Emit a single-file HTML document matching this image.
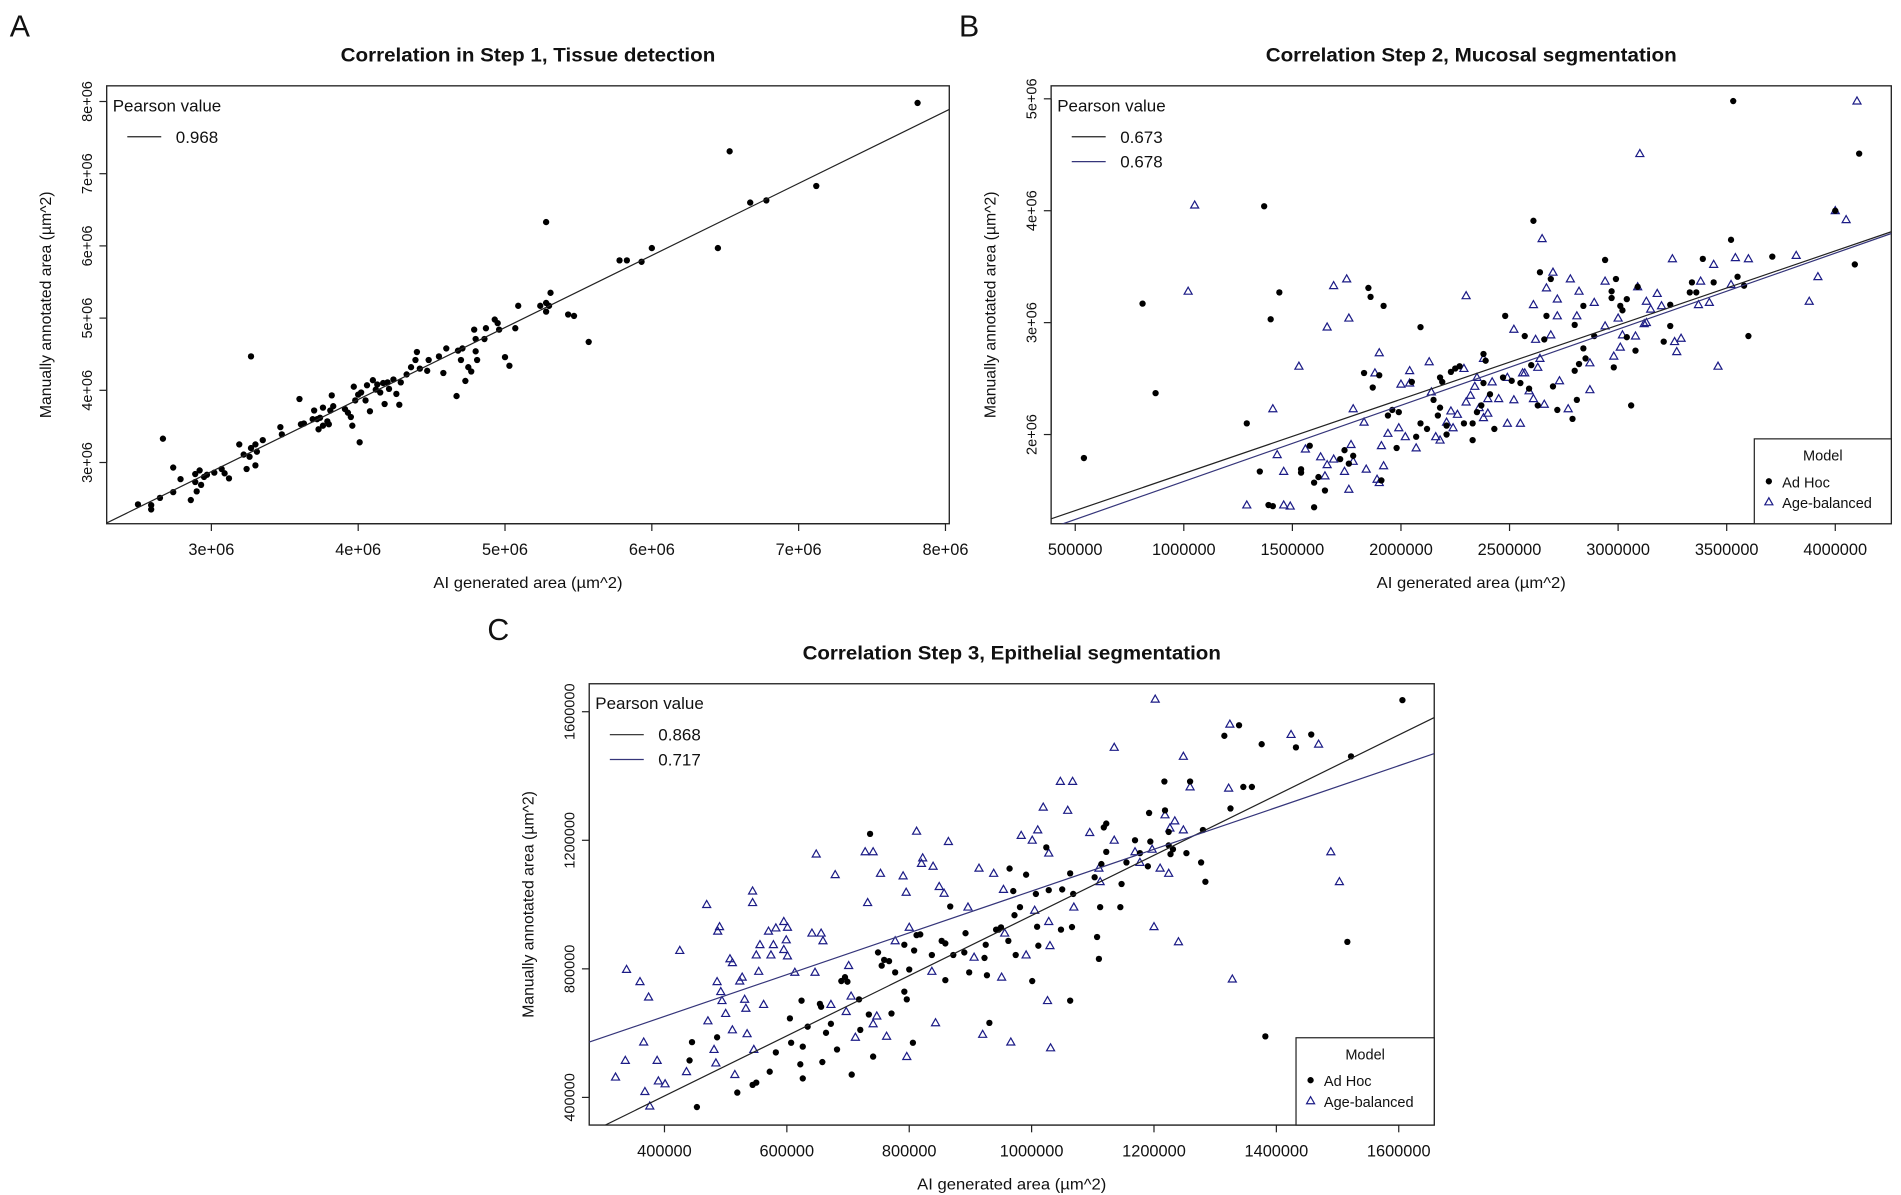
<!DOCTYPE html>
<html><head><meta charset="utf-8"><style>
html,body{margin:0;padding:0;background:#fff;}
svg{display:block;}
text{font-family:"Liberation Sans",Arial,sans-serif;fill:#111;}
</style></head><body>
<svg id="fig" width="1901" height="1195" viewBox="0 0 1568 985.7" preserveAspectRatio="none" xmlns="http://www.w3.org/2000/svg">
<text x="8" y="30" font-size="25">A</text>
<text x="791" y="30" font-size="25">B</text>
<text x="402" y="528" font-size="25">C</text>
</svg>
<script>
// ---------- Panel A data (millions) ----------
const aX=[2.50,2.59,2.59,2.65,2.67,2.74,2.74,2.79,2.86,2.89,2.90,2.89,2.92,2.93,2.95,2.97,3.02,3.07,3.09,3.12,3.19,3.22,3.24,3.26,3.27,3.30,3.30,3.31,3.35,3.27,3.47,3.48,3.60,3.61,3.63,3.69,3.70,3.72,3.73,3.74,3.76,3.76,3.79,3.80,3.81,3.82,3.83,3.91,3.93,3.95,3.96,3.97,3.98,4.00,4.01,4.02,4.05,4.06,4.08,4.10,4.12,4.13,4.15,4.17,4.18,4.20,4.21,4.24,4.26,4.28,4.29,4.33,4.36,4.39,4.40,4.42,4.47,4.48,4.55,4.58,4.60,4.67,4.68,4.70,4.71,4.73,4.75,4.77,4.79,4.80,4.80,4.81,4.86,4.87,4.93,4.95,4.96,5.00,5.03,5.07,5.09,5.24,5.28,5.28,5.28,5.30,5.31,5.43,5.47,5.57,5.78,5.83,5.93,6.00,6.45,6.53,6.67,6.78,7.12,7.81];
const aY=[2.42,2.41,2.35,2.51,3.33,2.93,2.59,2.77,2.48,2.84,2.60,2.73,2.89,2.69,2.80,2.83,2.86,2.91,2.85,2.78,3.25,3.11,2.91,3.08,3.20,3.25,2.96,3.15,3.31,4.47,3.49,3.39,3.88,3.53,3.54,3.60,3.72,3.60,3.46,3.62,3.51,3.76,3.57,3.53,3.72,3.93,3.78,3.74,3.69,3.63,3.51,4.05,3.86,3.94,3.28,3.97,3.86,4.07,3.71,4.14,4.01,4.08,3.97,4.10,3.81,4.11,4.02,4.15,3.95,3.80,4.11,4.22,4.32,4.42,4.53,4.30,4.27,4.42,4.47,4.24,4.58,3.92,4.55,4.42,4.58,4.13,4.32,4.26,4.84,4.54,4.71,4.42,4.71,4.86,4.98,4.93,4.84,4.46,4.34,4.86,5.17,5.17,6.33,5.21,5.09,5.17,5.35,5.05,5.03,4.67,5.80,5.80,5.78,5.97,5.97,7.31,6.60,6.63,6.83,7.98];
const aXTicks=[3,4,5,6,7,8];
const aXTickLabels=["3e+06","4e+06","5e+06","6e+06","7e+06","8e+06"];
const aYTicks=[3,4,5,6,7,8];
const aYTickLabels=["3e+06","4e+06","5e+06","6e+06","7e+06","8e+06"];
const aFit=[0.998,-0.12]; // slope, intercept
const aPearson=["0.968"];

// ---------- Panel B data (millions) ----------
const bAdHocX=[0.54,0.81,0.87,1.29,1.35,1.37,1.40,1.39,1.41,1.44,1.54,1.54,1.58,1.60,1.62,1.60,1.65,1.72,1.74,1.76,1.78,1.83,1.85,1.86,1.87,1.90,1.91,1.92,1.94,1.96,1.98,1.99,2.05,2.07,2.09,2.09,2.12,2.15,2.17,2.18,2.18,2.19,2.21,2.21,2.23,2.25,2.27,2.29,2.33,2.33,2.35,2.37,2.38,2.38,2.39,2.41,2.43,2.47,2.48,2.51,2.55,2.57,2.59,2.60,2.61,2.63,2.64,2.66,2.67,2.69,2.70,2.72,2.80,2.80,2.79,2.81,2.82,2.84,2.84,2.85,2.89,2.94,2.97,2.97,2.98,2.99,3.01,3.02,3.04,3.04,3.06,3.08,3.09,3.24,3.21,3.24,3.33,3.34,3.36,3.39,3.44,3.52,3.53,3.55,3.58,3.60,3.71,4.09,4.11,4.00];
const bAdHocY=[1.79,3.17,2.37,2.10,1.67,4.04,3.03,1.37,1.36,3.27,1.69,1.66,1.90,1.57,1.62,1.35,1.50,1.78,1.86,1.74,1.81,2.55,3.31,3.23,2.42,2.53,1.59,3.15,2.17,2.22,1.88,2.20,2.47,1.98,2.96,2.10,2.05,2.31,2.17,2.24,2.51,2.47,2.08,2.00,2.56,2.59,2.61,2.10,1.95,2.10,2.20,2.26,2.72,2.46,2.66,2.36,2.05,2.51,3.06,2.48,2.46,2.88,2.41,2.62,3.91,2.26,3.45,2.85,3.06,3.39,2.43,2.22,2.57,2.98,2.14,2.31,2.63,3.15,2.77,2.68,2.88,3.56,3.28,3.22,2.60,3.39,3.15,3.11,3.21,2.87,2.26,2.75,3.32,2.97,2.83,3.16,3.27,3.36,3.27,3.57,3.36,3.74,4.98,3.41,3.33,2.88,3.59,3.52,4.51,4.00];
const bAgeX=[1.02,1.05,1.29,1.41,1.43,1.46,1.46,1.49,1.53,1.56,1.63,1.65,1.66,1.66,1.69,1.69,1.74,1.75,1.76,1.76,1.77,1.78,1.78,1.83,1.84,1.88,1.90,1.89,1.90,1.91,1.92,1.94,1.99,2.00,2.02,2.04,2.04,2.07,2.13,2.14,2.16,2.18,2.21,2.23,2.24,2.26,2.30,2.29,2.30,2.32,2.34,2.35,2.36,2.38,2.38,2.40,2.40,2.42,2.45,2.49,2.49,2.52,2.52,2.55,2.56,2.57,2.59,2.61,2.61,2.62,2.63,2.64,2.65,2.66,2.67,2.69,2.70,2.72,2.72,2.73,2.77,2.78,2.81,2.82,2.87,2.87,2.89,2.94,2.94,2.98,3.00,3.01,3.02,3.08,3.09,3.10,3.12,3.13,3.13,3.15,3.18,3.20,3.25,3.26,3.27,3.29,3.37,3.38,3.42,3.44,3.46,3.52,3.54,3.60,3.82,3.88,3.92,4.00,4.05,4.10];
const bAgeY=[3.28,4.05,1.37,2.23,1.82,1.67,1.37,1.36,2.61,1.87,1.80,1.63,2.96,1.73,3.33,1.78,1.67,3.39,1.51,3.04,1.91,2.23,1.76,2.11,1.69,2.55,2.73,1.60,1.57,1.90,1.72,2.01,2.06,2.45,1.98,2.57,2.46,1.88,2.65,2.38,1.98,1.95,2.11,2.21,2.06,2.18,3.24,2.59,2.29,2.35,2.43,2.51,2.24,2.15,2.68,2.32,2.19,2.47,2.32,2.51,2.10,2.31,2.94,2.10,2.55,2.55,2.39,3.16,2.32,2.85,2.60,2.68,3.75,2.27,3.31,2.89,3.45,3.21,3.06,2.48,2.23,3.39,3.06,3.28,2.64,2.40,3.18,3.37,2.97,2.70,3.04,2.78,2.89,2.88,3.32,4.51,2.99,3.19,3.00,3.12,3.26,3.15,3.57,2.83,2.74,2.86,3.16,3.37,3.18,3.52,2.61,3.34,3.58,3.57,3.60,3.19,3.41,4.00,3.92,4.98];
const bXTicks=[0.5,1.0,1.5,2.0,2.5,3.0,3.5,4.0];
const bXTickLabels=["500000","1000000","1500000","2000000","2500000","3000000","3500000","4000000"];
const bYTicks=[2,3,4,5];
const bYTickLabels=["2e+06","3e+06","4e+06","5e+06"];
const bFitAdHoc=[0.663,0.989];
const bFitAge=[0.680,0.901];
const bPearson=["0.673","0.678"];

// ---------- Panel C data (millions) ----------
const cAdHocX=[0.441,0.445,0.453,0.486,0.519,0.544,0.550,0.572,0.582,0.605,0.607,0.622,0.624,0.626,0.626,0.634,0.654,0.658,0.664,0.656,0.672,0.682,0.689,0.695,0.699,0.706,0.718,0.720,0.736,0.741,0.734,0.749,0.755,0.759,0.767,0.771,0.777,0.792,0.792,0.796,0.800,0.806,0.808,0.812,0.818,0.837,0.853,0.859,0.859,0.867,0.872,0.890,0.892,0.898,0.923,0.925,0.927,0.931,0.942,0.946,0.950,0.962,0.964,0.970,0.972,0.974,0.981,0.991,1.001,1.007,1.009,1.011,1.024,1.028,1.048,1.050,1.063,1.063,1.066,1.068,1.103,1.107,1.110,1.112,1.114,1.118,1.122,1.122,1.145,1.147,1.155,1.169,1.177,1.190,1.192,1.194,1.217,1.218,1.224,1.224,1.227,1.231,1.253,1.259,1.277,1.280,1.284,1.315,1.325,1.339,1.346,1.360,1.376,1.382,1.432,1.457,1.522,1.516,1.606];
const cAdHocY=[0.515,0.572,0.370,0.587,0.415,0.439,0.446,0.480,0.540,0.646,0.570,0.503,0.701,0.558,0.459,0.620,0.691,0.510,0.601,0.682,0.629,0.549,0.762,0.774,0.760,0.471,0.705,0.610,1.220,0.527,0.658,0.851,0.810,0.828,0.824,0.661,0.789,0.875,0.729,0.705,0.798,0.570,0.857,0.905,0.907,0.843,0.887,0.879,0.765,0.994,0.843,0.851,0.911,0.789,0.834,0.875,0.780,0.632,0.922,0.922,0.929,0.887,1.112,1.042,0.967,0.843,0.992,1.093,0.762,1.033,0.931,0.872,1.178,1.045,0.922,1.047,1.097,0.701,0.930,1.033,1.085,0.899,0.831,0.992,1.126,1.240,1.252,1.164,0.992,1.064,1.131,1.200,1.160,1.119,1.285,1.196,1.383,1.293,1.226,1.184,1.157,1.172,1.160,1.383,1.131,1.232,1.071,1.525,1.299,1.558,1.366,1.366,1.499,0.590,1.489,1.529,1.461,0.884,1.636];
const cAgeX=[0.320,0.336,0.338,0.360,0.366,0.368,0.374,0.376,0.388,0.390,0.401,0.425,0.436,0.469,0.471,0.481,0.484,0.486,0.487,0.490,0.492,0.494,0.500,0.507,0.511,0.511,0.515,0.523,0.527,0.531,0.533,0.535,0.544,0.544,0.546,0.550,0.554,0.556,0.562,0.570,0.574,0.578,0.582,0.595,0.595,0.599,0.601,0.601,0.613,0.641,0.646,0.648,0.656,0.659,0.672,0.679,0.697,0.701,0.705,0.712,0.728,0.732,0.741,0.741,0.747,0.753,0.763,0.777,0.790,0.795,0.796,0.800,0.812,0.820,0.822,0.837,0.839,0.843,0.849,0.857,0.864,0.896,0.906,0.914,0.920,0.938,0.951,0.954,0.956,0.966,0.983,0.991,1.001,1.005,1.010,1.019,1.026,1.028,1.028,1.030,1.031,1.047,1.059,1.067,1.069,1.095,1.110,1.112,1.135,1.135,1.169,1.177,1.197,1.200,1.202,1.210,1.218,1.224,1.226,1.234,1.240,1.248,1.248,1.259,1.322,1.324,1.328,1.424,1.469,1.489,1.503];
const cAgeY=[0.463,0.515,0.798,0.760,0.572,0.418,0.712,0.373,0.515,0.451,0.442,0.857,0.480,1.000,0.638,0.549,0.507,0.760,0.917,0.931,0.729,0.701,0.661,0.831,0.819,0.610,0.471,0.762,0.774,0.705,0.677,0.598,1.042,1.006,0.549,0.843,0.792,0.875,0.689,0.917,0.843,0.875,0.927,0.947,0.860,0.890,0.929,0.840,0.789,0.911,0.789,1.157,0.911,0.887,0.689,1.093,0.667,0.810,0.715,0.587,1.164,1.006,1.164,0.629,0.653,1.097,0.590,0.887,1.089,1.038,0.527,0.929,1.228,1.128,1.145,0.792,1.119,0.632,1.056,1.035,1.196,0.992,0.836,1.113,0.596,1.097,0.774,1.047,0.911,0.572,1.215,0.843,1.200,0.982,1.232,1.303,0.701,0.947,1.160,0.872,0.554,1.383,1.293,1.383,0.992,1.224,1.113,1.071,1.489,1.200,1.164,1.131,1.172,0.931,1.639,1.113,1.279,1.097,1.238,1.260,0.884,1.461,1.232,1.366,1.362,1.561,0.768,1.529,1.499,1.164,1.071];
const cXTicks=[0.4,0.6,0.8,1.0,1.2,1.4,1.6];
const cXTickLabels=["400000","600000","800000","1000000","1200000","1400000","1600000"];
const cYTicks=[0.4,0.8,1.2,1.6];
const cYTickLabels=["400000","800000","1200000","1600000"];
const cFitAdHoc=[0.936,0.030];
const cFitAge=[0.650,0.392];
const cPearson=["0.868","0.717"];

const NS="http://www.w3.org/2000/svg";
const svg=document.getElementById('fig');
const BLUE="#1c1c86", BLUELINE="#35357a";
function mk(tag,attrs,parent){const e=document.createElementNS(NS,tag);for(const k in attrs)e.setAttribute(k,attrs[k]);(parent||svg).appendChild(e);return e;}

function panel(p){
  const g=mk('g',{});
  
  
  const sx=v=>p.L+(v-p.x0)/(p.x1-p.x0)*(p.R-p.L);
  const sy=v=>p.B-(v-p.y0)/(p.y1-p.y0)*(p.B-p.T);
  const cp=mk('clipPath',{id:p.id+'clip'},g);
  mk('rect',{x:p.L,y:p.T,width:p.R-p.L,height:p.B-p.T},cp);
  const t=mk('text',{x:(p.L+p.R)/2,y:p.T-20,'font-size':16,'font-weight':'bold','text-anchor':'middle',textLength:p.titleW,lengthAdjust:'spacingAndGlyphs'},g);
  t.textContent=p.title;
  
  
  const xl=mk('text',{x:(p.L+p.R)/2,y:p.B+53,'font-size':13,'text-anchor':'middle',textLength:156,lengthAdjust:'spacingAndGlyphs'},g);
  xl.textContent="AI generated area (\u00b5m^2)";
  
  
  const yx=p.L-46, yc=(p.T+p.B)/2;
  const yl=mk('text',{x:yx,y:yc,'font-size':13,'text-anchor':'middle',transform:`rotate(-90 ${yx} ${yc})`},g);
  yl.textContent="Manually annotated area (\u00b5m^2)";
  
  
  p.xt.forEach((v,i)=>{const x=sx(v);
    const tk=mk('line',{x1:x,x2:x,y1:p.B,y2:p.B+6,stroke:'#222','stroke-width':1},g);
    
    
    const tl=mk('text',{x:x,y:p.B+26,'font-size':13.5,'text-anchor':'middle'},g);
    tl.textContent=p.xtl[i];
    
    });
  const xa=mk('line',{x1:sx(p.xt[0]),x2:sx(p.xt[p.xt.length-1]),y1:p.B,y2:p.B,stroke:'#222'},g);
  
  
  p.yt.forEach((v,i)=>{const y=sy(v);
    const tk=mk('line',{x1:p.L-6,x2:p.L,y1:y,y2:y,stroke:'#222'},g);
    
    
    const tx=p.L-12;
    const tl=mk('text',{x:tx,y:y,'font-size':12,'text-anchor':'middle',transform:`rotate(-90 ${tx} ${y})`},g);
    tl.textContent=p.ytl[i];
    
    });
  const ya=mk('line',{x1:p.L,x2:p.L,y1:sy(p.yt[0]),y2:sy(p.yt[p.yt.length-1]),stroke:'#222'},g);
  
  
  const box=mk('rect',{x:p.L,y:p.T,width:p.R-p.L,height:p.B-p.T,fill:'none',stroke:'#222','stroke-width':1.1},g);
  
  
  const pg=mk('g',{'clip-path':`url(#${p.id}clip)`},g);
  p.series.forEach(s=>{
    s.xs.forEach((v,i)=>{const x=sx(v),y=sy(s.ys[i]);
      if(s.tri){
        const m=mk('polygon',{points:`${x},${y-3.4} ${x-3.3},${y+2.4} ${x+3.3},${y+2.4}`,fill:'none',stroke:BLUE,'stroke-width':1},pg);
        
        
      } else {
        const m=mk('circle',{cx:x,cy:y,r:2.6,fill:'#000'},pg);
        
        
      }});
  });
  p.fits.forEach(f=>{
    const l=mk('line',{x1:sx(p.x0),y1:sy(f.c[1]+f.c[0]*p.x0),x2:sx(p.x1),y2:sy(f.c[1]+f.c[0]*p.x1),stroke:f.col,'stroke-width':1},pg);
    
    
  });
  const lg=mk('g',{},g);
  
  
  const pv=mk('text',{x:p.L+5,y:p.T+21,'font-size':14},lg);
  pv.textContent="Pearson value";
  p.pearson.forEach((v,i)=>{const y=p.T+42+i*20.5;
    const ll=mk('line',{x1:p.L+17,x2:p.L+45,y1:y,y2:y,stroke:p.fits[i].col,'stroke-width':1},lg);
    
    
    const lt=mk('text',{x:p.L+57,y:y+5,'font-size':14},lg);
    lt.textContent=v;
    
    });
  if(p.model){
    const m=p.model;
    const mg=mk('g',{},g);
    
    
    mk('rect',{x:m.x,y:m.y,width:p.R-m.x,height:p.B-m.y,fill:'#fff',stroke:'#222'},mg);
    const mt=mk('text',{x:(m.x+p.R)/2,y:m.y+18,'font-size':12,'text-anchor':'middle'},mg);
    mt.textContent="Model";
    mk('circle',{cx:m.x+12,cy:m.y+35,r:2.6,fill:'#000'},mg);
    const a=mk('text',{x:m.x+23,y:m.y+40,'font-size':12},mg);a.textContent="Ad Hoc";
    const yy=m.y+52;
    mk('polygon',{points:`${m.x+12},${yy-3.4} ${m.x+8.7},${yy+2.4} ${m.x+15.3},${yy+2.4}`,fill:'none',stroke:BLUE},mg);
    const b=mk('text',{x:m.x+23,y:yy+5,'font-size':12},mg);b.textContent="Age-balanced";
  }
}

panel({id:'step1',L:88,R:783,T:70.8,B:432,x0:2.287,x1:8.026,y0:2.152,y1:8.217,
  title:"Correlation in Step 1, Tissue detection",titleW:309,
  xt:aXTicks,xtl:aXTickLabels,yt:aYTicks,ytl:aYTickLabels,
  series:[{xs:aX,ys:aY,tri:false}],fits:[{c:aFit,col:'#222',name:'overall'}],pearson:aPearson});
panel({id:'step2',L:867,R:1560,T:70.8,B:432,x0:0.389,x1:4.258,y0:1.203,y1:5.116,
  title:"Correlation Step 2, Mucosal segmentation",titleW:339,
  xt:bXTicks,xtl:bXTickLabels,yt:bYTicks,ytl:bYTickLabels,
  series:[{xs:bAgeX,ys:bAgeY,tri:true},{xs:bAdHocX,ys:bAdHocY,tri:false}],
  fits:[{c:bFitAdHoc,col:'#222',name:'ad-hoc'},{c:bFitAge,col:BLUELINE,name:'age-balanced'}],pearson:bPearson,
  model:{x:1447,y:362}});
panel({id:'step3',L:486,R:1183,T:564,B:928,x0:0.277,x1:1.658,y0:0.314,y1:1.687,
  title:"Correlation Step 3, Epithelial segmentation",titleW:345,
  xt:cXTicks,xtl:cXTickLabels,yt:cYTicks,ytl:cYTickLabels,
  series:[{xs:cAgeX,ys:cAgeY,tri:true},{xs:cAdHocX,ys:cAdHocY,tri:false}],
  fits:[{c:cFitAdHoc,col:'#222',name:'ad-hoc'},{c:cFitAge,col:BLUELINE,name:'age-balanced'}],pearson:cPearson,
  model:{x:1069,y:856}});
</script>
</body></html>
